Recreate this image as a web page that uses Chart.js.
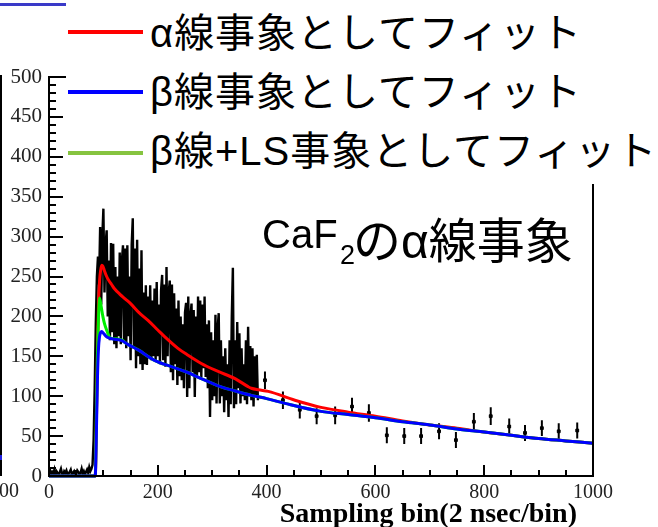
<!DOCTYPE html>
<html lang="ja">
<head>
<meta charset="utf-8">
<script src="https://cdn.jsdelivr.net/npm/chart.js@4.4.1/dist/chart.umd.min.js"></script>
<style>
  html, body { margin: 0; padding: 0; background: #fff; overflow: hidden; }
  #wrap { position: relative; width: 658px; height: 527px; overflow: hidden; }
  #c { position: absolute; left: 0; top: 0; }
  .abs { position: absolute; white-space: nowrap; color: #000; }
  .lt { font-family: "Liberation Sans", "Noto Sans CJK JP", sans-serif; font-size: 40px; line-height: 40px; letter-spacing: 1px; }
  .swatch { height: 4px; width: 75px; left: 68px; }
</style>
</head>
<body>
<div id="wrap">
  <canvas id="c" width="658" height="527"></canvas>

  <!-- neighbouring panel fragments on the left edge -->
  <div class="abs" style="left:0;top:3px;width:66px;height:3px;background:#3a3ac8"></div>
  <div class="abs" style="left:0;top:75px;width:2px;height:401px;background:#000"></div>
  <div class="abs" style="left:0;top:455px;width:2px;height:5px;background:#2020e0"></div>
  <div class="abs" style="left:-1px;top:479px;font:20px/22px 'Liberation Serif',serif;color:#222">00</div>

  <!-- legend -->
  <div class="abs" style="left:66px;top:0;width:592px;height:184px;background:#fff"></div>
  <div class="abs swatch" style="top:30px;background:#ff0000"></div>
  <div class="abs lt" style="left:150px;top:13px">α線事象としてフィット</div>
  <div class="abs swatch" style="top:90px;background:#0000ff"></div>
  <div class="abs lt" style="left:150px;top:72px">β線事象としてフィット</div>
  <div class="abs swatch" style="top:151px;background:#86c440"></div>
  <div class="abs lt" style="left:150px;top:131px">β線+LS事象としてフィット</div>

  <!-- annotation -->
  <div class="abs" style="left:262px;top:214px;font:40px/40px 'Liberation Sans',sans-serif">CaF</div>
  <div class="abs" style="left:340px;top:242px;font:27px/27px 'Liberation Sans',sans-serif">2</div>
  <div class="abs" style="left:353px;top:218px;font-family:'Liberation Sans','Noto Sans CJK JP',sans-serif;font-size:48px;line-height:48px">のα線事象</div>

  <!-- x axis title -->
  <div class="abs" style="left:0;width:577px;top:499px;text-align:right;font:bold 28px/28px 'Liberation Serif',serif">Sampling bin(2 nsec/bin)</div>
</div>

<script>
// Digitised waveform (counts per sampling bin), bins 0..384 in steps of BIN_WIDTH
const BIN_WIDTH = 2;
const waveform = [
  4, 7, 2, 5, 3, 8, 1, 6, 4, 2,
  5, 9, 3, 1, 6, 4, 7, 2, 3, 5,
  8, 2, 4, 6, 1, 3, 7, 5, 2, 4,
  9, 3, 6, 2, 5, 8, 4, 11, 6, 9,
  14, 45, 110, 190, 250, 275, 240, 312, 215, 300,
  335, 230, 290, 308, 200, 270, 170, 292, 180, 291,
  165, 262, 160, 250, 175, 280, 165, 270, 289, 170,
  285, 160, 289, 175, 250, 145, 290, 323, 160, 285,
  135, 296, 150, 260, 140, 283, 133, 230, 140, 239,
  139, 225, 150, 239, 145, 220, 150, 235, 145, 243,
  150, 215, 140, 233, 252, 145, 240, 137, 262, 150,
  230, 245, 130, 240, 120, 229, 140, 210, 114, 220,
  125, 200, 120, 190, 110, 205, 217, 99, 225, 110,
  200, 216, 130, 208, 99, 200, 125, 225, 130, 220,
  124, 215, 135, 225, 124, 190, 110, 195, 74, 180,
  95, 170, 100, 202, 91, 185, 204, 91, 170, 100,
  150, 80, 160, 95, 140, 74, 170, 90, 200, 261,
  85, 170, 90, 193, 110, 179, 91, 160, 100, 140,
  95, 170, 90, 187, 100, 163, 95, 160, 87, 150,
  100, 152, 95
];

// Rebinned tail with statistical errors
const rebinCenters = [397, 430, 461, 492, 526, 557, 588, 621, 653, 684, 717, 748, 781, 812, 846, 875, 906, 937, 971];
const rebinCounts  = [120, 95, 83, 75, 76, 87, 79, 51, 50, 50, 56, 45, 68, 75, 62, 54, 60, 56, 57];
const rebinErrors  = [11, 11, 11, 10, 11, 11, 11, 10, 10, 10, 10, 10, 11, 11, 10, 10, 10, 10, 10];

// Fit curves
const alphaFitX = [0, 85, 87, 89, 91, 93, 95, 97, 99, 102, 106, 110, 115, 120, 130, 140, 150, 165, 182, 200, 212, 237, 254, 280, 311, 342, 366, 372, 385, 403, 452, 500, 550, 600, 650, 700, 750, 800, 850, 900, 950, 1000];
const alphaFitY = [0, 0, 60, 150, 215, 245, 258, 264, 263, 257, 250, 245, 240, 235, 228, 222, 216, 205, 195, 183, 175, 160, 152, 141, 131, 122, 112, 110, 108, 106, 95, 86, 80, 75, 69, 64, 60, 55, 51, 47, 44, 41];

const betaFitX = [0, 85, 87, 89, 91, 93, 95, 97, 100, 105, 110, 115, 125, 133, 145, 164, 194, 225, 254, 280, 311, 340, 372, 400, 434, 500, 550, 600, 650, 700, 750, 800, 850, 900, 950, 1000];
const betaFitY = [0, 0, 50, 120, 160, 175, 180, 181, 179, 175, 173, 172, 171, 170, 165, 158, 145, 137, 130, 122, 113, 107, 101, 97, 91, 81, 77, 73, 68, 64, 59, 55, 51, 47, 44, 41];

const betaLsFitX = [0, 85, 87, 89, 91, 93, 96, 99, 102, 107, 111, 117, 124, 130, 135, 140, 145, 164, 194, 225, 254, 280, 311, 340, 372, 400, 434, 500, 550, 600, 650, 700, 750, 800, 850, 900, 950, 1000];
const betaLsFitY = [0, 0, 70, 150, 200, 223, 212, 200, 191, 181, 174, 172, 172, 171, 170, 167, 165, 158, 145, 137, 130, 122, 113, 107, 101, 97, 91, 81, 77, 73, 68, 64, 59, 55, 51, 47, 44, 41];

// Axis tick values
const xAxisTicks = [0, 200, 400, 600, 800, 1000];
const yAxisTicks = [0, 50, 100, 150, 200, 250, 300, 350, 400, 450, 500];
const xMinorStep = 50;
const yMinorStep = 10;

const pairs = (xs, ys) => xs.map((x, i) => ({ x: x, y: ys[i] }));

const waveData = waveform.map((v, i) => ({ x: i * BIN_WIDTH, y: v }));
const errorBarData = [];
rebinCenters.forEach((x, i) => {
  errorBarData.push({ x: x, y: rebinCounts[i] - rebinErrors[i] });
  errorBarData.push({ x: x, y: rebinCounts[i] + rebinErrors[i] });
  errorBarData.push({ x: x, y: null });
});

// Frame and inward-pointing tick marks
const frameTicks = {
  id: 'frameTicks',
  afterDatasetsDraw(chart) {
    const { ctx, chartArea: a, scales: { x, y } } = chart;
    ctx.save();
    ctx.strokeStyle = '#000';
    ctx.lineWidth = 2;
    ctx.strokeRect(a.left, a.top, a.right - a.left, a.bottom - a.top);
    ctx.beginPath();
    for (let v = y.min; v <= y.max; v += yMinorStep) {
      const py = Math.round(y.getPixelForValue(v));
      const len = yAxisTicks.includes(v) ? 14 : 7;
      ctx.moveTo(a.left, py);
      ctx.lineTo(a.left + len, py);
    }
    for (let v = x.min; v <= x.max; v += xMinorStep) {
      const px = Math.round(x.getPixelForValue(v));
      const len = xAxisTicks.includes(v) ? 11 : 6;
      ctx.moveTo(px, a.bottom);
      ctx.lineTo(px, a.bottom - len);
    }
    ctx.stroke();
    ctx.restore();
  }
};

const plainLabel = v => String(v);

new Chart(document.getElementById('c'), {
  type: 'line',
  data: {
    datasets: [
      { label: 'beta', data: pairs(betaFitX, betaFitY), borderColor: '#0000ff', borderWidth: 3,
        pointRadius: 0, cubicInterpolationMode: 'monotone', clip: false },
      { label: 'betaLS', data: pairs(betaLsFitX, betaLsFitY), borderColor: '#00ee00', borderWidth: 3,
        pointRadius: 0, cubicInterpolationMode: 'monotone', clip: false },
      { label: 'alpha', data: pairs(alphaFitX, alphaFitY), borderColor: '#ff0000', borderWidth: 3,
        pointRadius: 0, cubicInterpolationMode: 'monotone', clip: false },
      { label: 'rebinned', data: pairs(rebinCenters, rebinCounts), showLine: false,
        pointStyle: 'rect', pointRadius: 2, pointBackgroundColor: '#000', pointBorderColor: '#000' },
      { label: 'errors', data: errorBarData, borderColor: '#000', borderWidth: 2,
        pointRadius: 0, spanGaps: false },
      { label: 'waveform', data: waveData, borderColor: '#000', borderWidth: 2.4,
        pointRadius: 0, tension: 0 }
    ]
  },
  options: {
    responsive: false,
    devicePixelRatio: 1,
    animation: false,
    events: [],
    layout: { padding: { top: 77, right: 65, left: 0, bottom: 0 } },
    plugins: { legend: { display: false }, tooltip: { enabled: false } },
    scales: {
      x: {
        type: 'linear', min: 0, max: 1000,
        grid: { display: false, drawTicks: false },
        border: { display: false },
        afterFit: s => { s.height = 51; },
        afterBuildTicks: s => { s.ticks = xAxisTicks.map(v => ({ value: v })); },
        ticks: { font: { family: 'Liberation Serif', size: 20 }, color: '#222', padding: 5,
                 maxRotation: 0, autoSkip: false, callback: plainLabel }
      },
      y: {
        type: 'linear', min: 0, max: 500,
        grid: { display: false, drawTicks: false },
        border: { display: false },
        afterFit: s => { s.width = 49; },
        afterBuildTicks: s => { s.ticks = yAxisTicks.map(v => ({ value: v })); },
        ticks: { font: { family: 'Liberation Serif', size: 21 }, color: '#222', padding: 7,
                 autoSkip: false, callback: plainLabel }
      }
    }
  },
  plugins: [frameTicks]
});
</script>
</body>
</html>
